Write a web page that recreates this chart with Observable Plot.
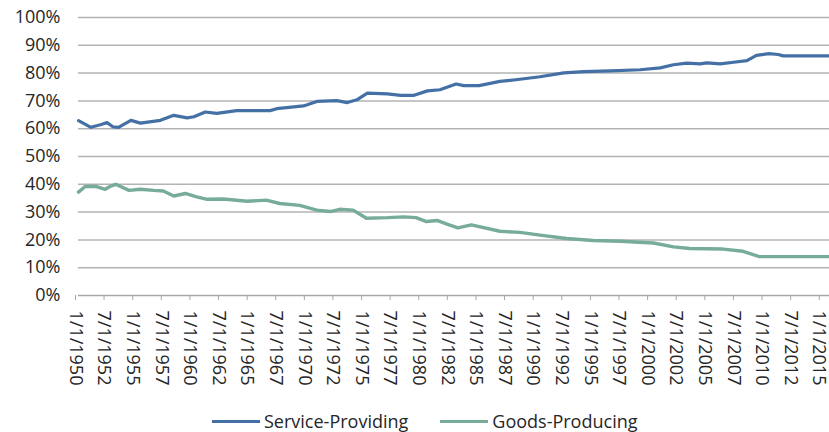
<!DOCTYPE html>
<html>
<head>
<meta charset="utf-8">
<script src="https://cdn.jsdelivr.net/npm/d3@7"></script>
<script src="https://cdn.jsdelivr.net/npm/@observablehq/plot@0.6"></script>
<style>
  body { margin: 0; background: #fff; font-family: "Open Sans", sans-serif; }
  #legend { display: flex; gap: 32px; padding-left: 212px; margin-top: 4px; font-size: 18px; color: #262626; }
  .item { display: flex; align-items: center; gap: 4px; }
  .swatch { width: 48px; height: 3px; }
</style>
</head>
<body>
<div id="chart"></div>
<div id="legend"></div>
<script>
// Share of employment by sector, percent of total
const serviceDates = ["1950-01","1951-02","1951-12","1952-07","1953-01","1953-07","1954-08","1955-06","1957-03","1958-05",
  "1959-07","1960-02","1961-02","1962-02","1963-11","1966-10","1967-05","1969-09","1970-11","1972-08",
  "1973-07","1974-05","1975-04","1977-01","1978-03","1979-05","1980-07","1981-08","1983-01","1983-09",
  "1985-01","1986-11","1988-08","1990-05","1992-06","1994-03","1996-07","1999-02","2000-11","2002-01",
  "2003-03","2004-05","2004-12","2006-02","2007-04","2008-06","2009-04","2010-05","2011-03","2011-08","2015-08"];
const serviceValues = [62.9,60.5,61.4,62.2,60.7,60.5,63.0,62.0,63.0,64.8,
  63.9,64.3,66.0,65.5,66.5,66.5,67.2,68.2,69.8,70.1,
  69.4,70.4,72.8,72.5,72.0,72.0,73.6,74.0,76.1,75.5,
  75.5,77.0,77.8,78.7,80.1,80.5,80.8,81.2,81.9,83.0,
  83.6,83.3,83.7,83.3,83.9,84.5,86.4,87.0,86.7,86.2,86.2];

const goodsDates = ["1950-01","1950-08","1951-08","1952-05","1952-10","1953-04","1954-06","1955-06","1956-08","1957-06",
  "1958-05","1959-05","1960-05","1961-04","1962-09","1964-10","1966-06","1967-08","1969-05","1970-11",
  "1972-01","1972-11","1974-01","1975-03","1977-01","1978-06","1979-07","1980-06","1981-05","1982-05",
  "1983-03","1984-05","1986-11","1988-08","1990-05","1992-09","1995-01","1997-05","2000-04","2002-01",
  "2003-06","2006-05","2008-02","2009-07","2015-08"];
const goodsValues = [37.2,39.2,39.2,38.2,39.2,40.0,37.8,38.2,37.8,37.6,
  35.8,36.7,35.5,34.6,34.7,33.9,34.3,33.1,32.4,30.7,
  30.2,31.0,30.7,27.8,28.0,28.3,28.0,26.6,27.0,25.5,
  24.3,25.4,23.1,22.7,21.7,20.5,19.8,19.5,18.9,17.5,
  16.9,16.7,15.9,14.0,14.0];

const xTickLabels = ["1/1/1950","7/1/1952","1/1/1955","7/1/1957","1/1/1960","7/1/1962","1/1/1965","7/1/1967",
  "1/1/1970","7/1/1972","1/1/1975","7/1/1977","1/1/1980","7/1/1982","1/1/1985","7/1/1987","1/1/1990",
  "7/1/1992","1/1/1995","7/1/1997","1/1/2000","7/1/2002","1/1/2005","7/1/2007","1/1/2010","7/1/2012","1/1/2015"];
const yTicks = [0,10,20,30,40,50,60,70,80,90,100];

const seriesNames = ["Service-Providing", "Goods-Producing"];
const seriesColors = ["#4470a6", "#77ad98"];

const parseMonth = d3.utcParse("%Y-%m");
const parseLabel = d3.utcParse("%m/%d/%Y");
const service = serviceDates.map((d, i) => ({date: parseMonth(d), value: serviceValues[i]}));
const goods = goodsDates.map((d, i) => ({date: parseMonth(d), value: goodsValues[i]}));
const tickDates = xTickLabels.map(parseLabel);
const fmtDate = d => `${d.getUTCMonth() + 1}/${d.getUTCDate()}/${d.getUTCFullYear()}`;

const chart = Plot.plot({
  width: 829,
  height: 405,
  marginLeft: 78,
  marginRight: 0,
  marginTop: 17,
  marginBottom: 110,
  style: {fontFamily: "Open Sans, sans-serif", background: "#fff"},
  x: {type: "utc", domain: [new Date(Date.UTC(1950, 0, 1)), new Date(Date.UTC(2015, 7, 20))]},
  y: {domain: [0, 100]},
  marks: [
    Plot.gridY(yTicks.slice(1), {stroke: "#b3b3b3", strokeOpacity: 1, strokeWidth: 1.5}),
    Plot.axisY(yTicks, {tickSize: 0, tickPadding: 18, tickFormat: d => d + "%", fontSize: 18, fill: "#262626", label: null}),
    Plot.ruleY([0], {stroke: "#a6a6a6", strokeWidth: 1.5}),
    Plot.axisX(tickDates, {tickRotate: 90, tickSize: 5, tickPadding: 10, tickFormat: fmtDate, fontSize: 18, dx: -3,
      stroke: "#a6a6a6", fill: "#262626", label: null}),
    Plot.lineY(service, {x: "date", y: "value", stroke: seriesColors[0], strokeWidth: 3.2, curve: "linear"}),
    Plot.lineY(goods, {x: "date", y: "value", stroke: seriesColors[1], strokeWidth: 3.4, curve: "linear"})
  ]
});
document.getElementById("chart").appendChild(chart);

const legend = document.getElementById("legend");
seriesNames.forEach((name, i) => {
  const item = document.createElement("div");
  item.className = "item";
  const sw = document.createElement("span");
  sw.className = "swatch";
  sw.style.background = seriesColors[i];
  const label = document.createElement("span");
  label.textContent = name;
  item.append(sw, label);
  legend.appendChild(item);
});
</script>
</body>
</html>
